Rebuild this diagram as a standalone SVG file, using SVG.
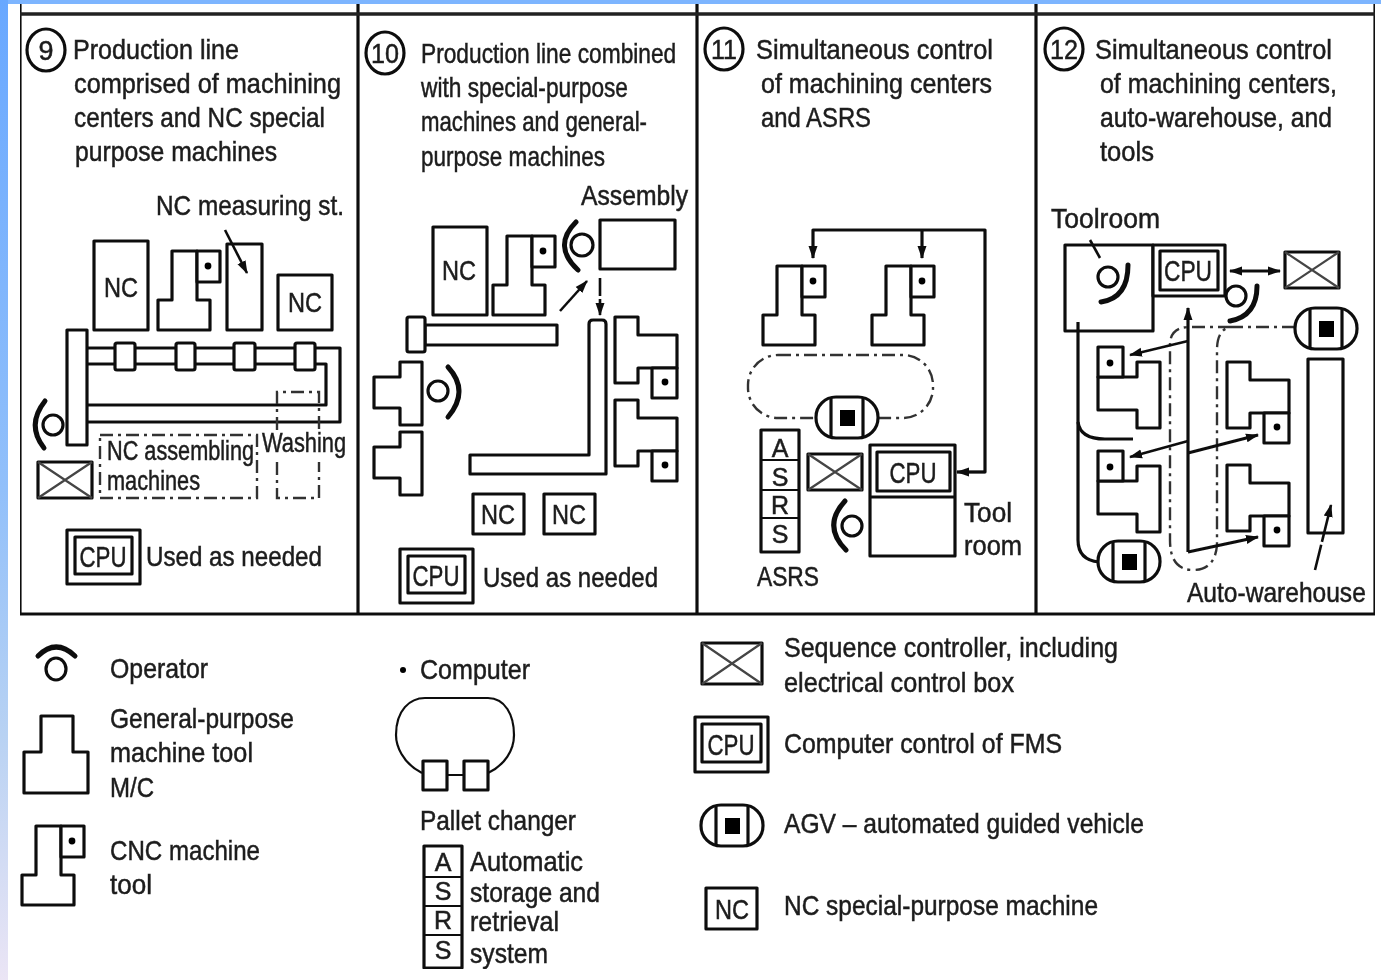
<svg xmlns="http://www.w3.org/2000/svg" width="1381" height="980" viewBox="0 0 1381 980">
<style>
.l{fill:none;stroke:#111;stroke-width:3.2;stroke-linejoin:round}
.b{fill:#fff;stroke:#111;stroke-width:3.2;stroke-linejoin:round}
.t{stroke-width:2.2}
.d{fill:none;stroke:#333;stroke-width:2.4;stroke-dasharray:13 5 3 5}
.th{fill:none;stroke:#111;stroke-width:5;stroke-linecap:round}
.k{fill:#000;stroke:none}
.w{fill:none;stroke:#111;stroke-width:2.6}
.x{fill:none;stroke:#444;stroke-width:2.2}
text{font-family:"Liberation Sans",Arial,sans-serif;font-size:28px;fill:#1c1c1c;stroke:#1c1c1c;stroke-width:.5}
.m{text-anchor:middle}
.f{font-size:30px}
.c{font-size:25px}
</style>
<defs>
<linearGradient id="side" x1="0" y1="0" x2="0" y2="1"><stop offset="0" stop-color="#69a8ff"/><stop offset=".5" stop-color="#92c0fa"/><stop offset=".75" stop-color="#b8d2f3"/><stop offset="1" stop-color="#ebe5f5"/></linearGradient>
<filter id="soft" x="0" y="0" width="1" height="1"><feGaussianBlur stdDeviation="0.75"/></filter>
<marker id="a" markerUnits="userSpaceOnUse" markerWidth="14" markerHeight="12" refX="12" refY="6" orient="auto-start-reverse"><path d="M0 1.5 L13 6 L0 10.5Z" fill="#111"/></marker>
<g id="cnc"><path class="b" d="M0 0H25V49H38V79H-14V49H0Z"/><rect class="b" x="25" y="0" width="23" height="31"/><circle class="k" cx="36" cy="15" r="3.4"/></g>
<g id="cncR"><path class="b" d="M0 0H23V18H62V51H23V66H0Z"/><rect class="b" x="37" y="51" width="25" height="30"/><circle class="k" cx="50" cy="65" r="3.4"/></g>
<path id="gpL" class="b" d="M26 0H48V63H26V46H0V15H26Z"/>
<g id="xbox"><rect class="b" x="0" y="0" width="54" height="36"/><path class="x" d="M0 0L54 36M54 0L0 36"/></g>
<g id="cpu"><rect class="b" x="0" y="0" width="73" height="54"/><rect class="l" x="8" y="7" width="57" height="37"/></g>
<g id="agv"><rect class="b" x="0" y="0" width="62" height="41" rx="20" ry="20"/><path class="l" d="M15 0V41M47 0V41"/><rect class="k" x="24" y="13" width="15" height="16"/></g>
<g id="asrs"><rect class="b" x="0" y="0" width="38" height="122"/><path class="l t" d="M0 30H38M0 60H38M0 88H38"/></g>
</defs>
<rect id="background" x="0" y="0" width="1381" height="980" fill="#fff"/>
<rect x="0" y="0" width="1381" height="4" fill="#7db5ff"/>
<rect x="0" y="0" width="8" height="980" fill="url(#side)"/>
<g filter="url(#soft)">
<g id="frame">
<path class="l" d="M20 4V614H1375V4M358 4V614M697 4V614M1036 4V614"/>
<path d="M20 14H1375" fill="none" stroke="#222" stroke-width="3.5"/>
</g>
<g id="panel-9">
<g id="badge-9"><ellipse class="l" cx="46" cy="50" rx="19" ry="21"/><text class="m" x="46" y="60" textLength="15" lengthAdjust="spacingAndGlyphs">9</text></g>
<text x="73" y="59" textLength="166" lengthAdjust="spacingAndGlyphs">Production line</text>
<text x="74" y="93" textLength="267" lengthAdjust="spacingAndGlyphs">comprised of machining</text>
<text x="74" y="127" textLength="251" lengthAdjust="spacingAndGlyphs">centers and NC special</text>
<text x="75" y="161" textLength="202" lengthAdjust="spacingAndGlyphs">purpose machines</text>
<text x="156" y="215" textLength="188" lengthAdjust="spacingAndGlyphs">NC measuring st.</text>
<g id="nc-9a"><rect class="b" x="94" y="241" width="54" height="89"/><text class="m" x="121" y="297" textLength="34" lengthAdjust="spacingAndGlyphs">NC</text></g>
<g id="cnc-9"><use href="#cnc" x="172" y="251"/></g>
<g id="measuring-9"><rect class="b" x="227" y="244" width="35" height="86"/></g>
<g id="nc-9b"><rect class="b" x="278" y="275" width="54" height="55"/><text class="m" x="305" y="312" textLength="34" lengthAdjust="spacingAndGlyphs">NC</text></g>
<g id="track-9"><path class="l" d="M87 348H340V422H87M87 364H326V405H87"/><rect class="b" x="67" y="330" width="20" height="115"/>
<rect class="b" x="115" y="343" width="20" height="27" rx="2"/><rect class="b" x="176" y="343" width="19" height="27" rx="2"/><rect class="b" x="234" y="343" width="21" height="27" rx="2"/><rect class="b" x="295" y="343" width="20" height="27" rx="2"/></g>
<g id="operator-9"><circle class="l" cx="53" cy="425" r="10"/><path class="th" d="M45 401Q26 425 44 448"/></g>
<g id="seq-9"><use href="#xbox" x="38" y="462"/></g>
<g id="assembling-9"><rect class="d" x="100" y="435" width="157" height="63"/><text transform="translate(107 460) scale(.775 1)">NC assembling</text><text x="107" y="490" textLength="93" lengthAdjust="spacingAndGlyphs">machines</text></g>
<g id="washing-9"><path class="d" d="M277 430V392H319V430M277 462V498H319V462"/><text transform="translate(262 452) scale(.78 1)">Washing</text></g>
<g id="cpu-9"><use href="#cpu" x="67" y="530"/><text class="m f" x="103" y="567" textLength="47" lengthAdjust="spacingAndGlyphs">CPU</text></g>
<text x="146" y="566" textLength="176" lengthAdjust="spacingAndGlyphs">Used as needed</text>
</g>
<g id="panel-10">
<g id="badge-10"><ellipse class="l" cx="385" cy="53" rx="19" ry="21"/><text class="m" x="385" y="63" textLength="28" lengthAdjust="spacingAndGlyphs">10</text></g>
<text transform="translate(421 63) scale(.812 1)">Production line combined</text>
<text x="421" y="97" textLength="207" lengthAdjust="spacingAndGlyphs">with special-purpose</text>
<text x="421" y="131" textLength="226" lengthAdjust="spacingAndGlyphs">machines and general-</text>
<text x="421" y="166" textLength="184" lengthAdjust="spacingAndGlyphs">purpose machines</text>
<text x="581" y="205" textLength="107" lengthAdjust="spacingAndGlyphs">Assembly</text>
<g id="nc-10a"><rect class="b" x="433" y="227" width="54" height="88"/><text class="m" x="459" y="280" textLength="34" lengthAdjust="spacingAndGlyphs">NC</text></g>
<g id="cnc-10"><use href="#cnc" x="507" y="236"/></g>
<g id="assembly-10"><rect class="b" x="600" y="220" width="75" height="49"/></g>
<g id="operator-10a"><circle class="l" cx="582" cy="245" r="11"/><path class="th" d="M576 222Q552 246 578 270"/></g>
<g id="bar-10"><rect class="b" x="425" y="325" width="132" height="20"/><rect class="b" x="407" y="317" width="18" height="35" rx="2"/></g>
<g id="conveyor-10"><path class="b" d="M470 455H589V324Q589 320 593 320H602Q606 320 606 324V474H470Z"/></g>
<g id="gp-10a"><use href="#gpL" x="374" y="362"/></g>
<g id="gp-10b"><use href="#gpL" x="374" y="432"/></g>
<g id="operator-10b"><circle class="l" cx="438" cy="391" r="10"/><path class="th" d="M448 367Q470 391 448 417"/></g>
<g id="cnc-10b"><use href="#cncR" x="615" y="317"/></g>
<g id="cnc-10c"><use href="#cncR" x="615" y="400"/></g>
<g id="nc-10b"><rect class="b" x="473" y="494" width="51" height="40"/><text class="m" x="498" y="524" textLength="34" lengthAdjust="spacingAndGlyphs">NC</text></g>
<g id="nc-10c"><rect class="b" x="544" y="494" width="51" height="40"/><text class="m" x="569" y="524" textLength="34" lengthAdjust="spacingAndGlyphs">NC</text></g>
<g id="cpu-10"><use href="#cpu" x="400" y="549"/><text class="m f" x="436" y="586" textLength="47" lengthAdjust="spacingAndGlyphs">CPU</text></g>
<text x="483" y="587" textLength="175" lengthAdjust="spacingAndGlyphs">Used as needed</text>
</g>
<g id="panel-11">
<g id="badge-11"><ellipse class="l" cx="724" cy="49" rx="19" ry="21"/><text class="m" x="724" y="59" textLength="26" lengthAdjust="spacingAndGlyphs">11</text></g>
<text x="756" y="59" textLength="237" lengthAdjust="spacingAndGlyphs">Simultaneous control</text>
<text x="761" y="93" textLength="231" lengthAdjust="spacingAndGlyphs">of machining centers</text>
<text x="761" y="127" textLength="110" lengthAdjust="spacingAndGlyphs">and ASRS</text>
<g id="cnc-11a"><use href="#cnc" x="777" y="266"/></g>
<g id="cnc-11b"><use href="#cnc" x="886" y="266"/></g>
<g id="path-11"><rect class="d" x="748" y="355" width="185" height="63" rx="30"/></g>
<g id="agv-11"><use href="#agv" x="816" y="397"/></g>
<g id="asrs-11"><use href="#asrs" x="761" y="430"/><text class="m c" x="780" y="457">A</text><text class="m c" x="780" y="486">S</text><text class="m c" x="780" y="514">R</text><text class="m c" x="780" y="543">S</text></g>
<g id="seq-11"><use href="#xbox" x="808" y="454"/></g>
<g id="toolroom-11"><rect class="b" x="870" y="445" width="85" height="111"/><path class="l" d="M870 497H955"/><rect class="l" x="877" y="452" width="73" height="39"/><text class="m f" x="913" y="483" textLength="47" lengthAdjust="spacingAndGlyphs">CPU</text></g>
<g id="operator-11"><circle class="l" cx="852" cy="526" r="10"/><path class="th" d="M845 501Q822 526 846 550"/></g>
<text x="964" y="522" textLength="48" lengthAdjust="spacingAndGlyphs">Tool</text>
<text x="964" y="555" textLength="58" lengthAdjust="spacingAndGlyphs">room</text>
<text x="757" y="586" textLength="62" lengthAdjust="spacingAndGlyphs">ASRS</text>
</g>
<g id="panel-12">
<g id="badge-12"><ellipse class="l" cx="1064" cy="49" rx="19" ry="21"/><text class="m" x="1064" y="59" textLength="28" lengthAdjust="spacingAndGlyphs">12</text></g>
<text x="1095" y="59" textLength="237" lengthAdjust="spacingAndGlyphs">Simultaneous control</text>
<text x="1100" y="93" textLength="237" lengthAdjust="spacingAndGlyphs">of machining centers,</text>
<text x="1100" y="127" textLength="232" lengthAdjust="spacingAndGlyphs">auto-warehouse, and</text>
<text x="1100" y="161" textLength="54" lengthAdjust="spacingAndGlyphs">tools</text>
<text x="1051" y="228" textLength="109" lengthAdjust="spacingAndGlyphs">Toolroom</text>
<g id="toolroom-12"><rect class="b" x="1065" y="245" width="88" height="86"/></g>
<g id="operator-12a"><circle class="l" cx="1108" cy="277" r="10"/><path class="th" d="M1128 265Q1128 298 1101 302"/></g>
<g id="cpu-12"><rect class="b" x="1153" y="245" width="72" height="51"/><rect class="l" x="1160" y="251" width="58" height="39"/><text class="m f" x="1188" y="281" textLength="48" lengthAdjust="spacingAndGlyphs">CPU</text></g>
<g id="seq-12"><use href="#xbox" x="1285" y="252"/></g>
<g id="operator-12b"><circle class="l" cx="1236" cy="296" r="10"/><path class="th" d="M1257 286Q1257 316 1230 321"/></g>
<g id="path-12"><path class="d" d="M1295 327H1230Q1217 330 1217 350V545Q1215 570 1193 570Q1170 570 1170 540V345Q1170 327 1190 327H1230"/></g>
<g id="agv-12a"><use href="#agv" x="1295" y="308"/></g>
<g id="agv-12b"><use href="#agv" x="1098" y="541"/></g>
<g id="cnc-12a"><use href="#cncR" transform="rotate(180 1160 428) translate(1160 428)"/></g>
<g id="cnc-12b"><use href="#cncR" transform="rotate(180 1160 532) translate(1160 532)"/></g>
<g id="cnc-12c"><use href="#cncR" x="1227" y="362"/></g>
<g id="cnc-12d"><use href="#cncR" x="1227" y="465"/></g>
<g id="warehouse-12"><rect class="b" x="1308" y="359" width="35" height="174"/></g>
<text transform="translate(1187 602) scale(.877 1)">Auto-warehouse</text>
</g>
<g id="connectors">
<path class="w" d="M225 230L247 273" marker-end="url(#a)"/>
<path class="w" d="M560 311L587 281" marker-end="url(#a)"/>
<path class="w" d="M600 278V315" stroke-dasharray="18 3 18" marker-end="url(#a)"/>
<path class="l" d="M957 472H985V230H813V258" marker-end="url(#a)"/>
<path class="w" d="M985 472H957" marker-end="url(#a)"/>
<path class="l" d="M922 230V258" marker-end="url(#a)"/>
<path class="w" d="M1090 240L1100 258"/>
<path class="l" d="M1230 271H1280" marker-start="url(#a)" marker-end="url(#a)"/>
<path class="l" d="M1188 552V308" marker-end="url(#a)"/>
<path class="w" d="M1188 341L1130 355" marker-end="url(#a)"/>
<path class="w" d="M1188 441L1130 457" marker-end="url(#a)"/>
<path class="l" d="M1188 453L1258 435" marker-end="url(#a)"/>
<path class="l" d="M1188 552L1258 537" marker-end="url(#a)"/>
<path class="l" d="M1078 322V540Q1078 560 1099 562"/>
<path class="l" d="M1078 422Q1080 439 1105 439H1133"/>
<path class="w" d="M1315 570L1331 505" stroke-dasharray="26 3 40" marker-end="url(#a)"/>
</g>
<g id="legend">
<g id="leg-operator"><ellipse class="l" cx="56" cy="669" rx="10" ry="11"/><path class="th" d="M38 656Q56 638 75 656"/><text x="110" y="678" textLength="98" lengthAdjust="spacingAndGlyphs">Operator</text></g>
<g id="leg-gp"><path class="b" d="M41 716H73V752H88V793H24V752H41Z"/><text x="110" y="728" textLength="184" lengthAdjust="spacingAndGlyphs">General-purpose</text><text x="110" y="762" textLength="143" lengthAdjust="spacingAndGlyphs">machine tool</text><text x="110" y="797" textLength="44" lengthAdjust="spacingAndGlyphs">M/C</text></g>
<g id="leg-cnc"><use href="#cnc" x="36" y="826"/><text x="110" y="860" textLength="150" lengthAdjust="spacingAndGlyphs">CNC machine</text><text x="110" y="894" textLength="42" lengthAdjust="spacingAndGlyphs">tool</text></g>
<g id="leg-computer"><circle class="k" cx="403" cy="670" r="3"/><text x="420" y="679" textLength="110" lengthAdjust="spacingAndGlyphs">Computer</text></g>
<g id="leg-pallet"><path class="l t" d="M422 773C402 763 396 745 396 735C396 710 410 698 425 698H488C505 698 514 715 514 735C514 750 505 765 488 773M447 775H464"/><rect class="b" x="423" y="761" width="24" height="29"/><rect class="b" x="464" y="761" width="24" height="29"/><text x="420" y="830" textLength="156" lengthAdjust="spacingAndGlyphs">Pallet changer</text></g>
<g id="leg-asrs"><rect class="l" x="424" y="846" width="38" height="122"/><path class="l t" d="M424 877H462M424 906H462M424 935H462"/><text class="m c" x="443" y="871">A</text><text class="m c" x="443" y="900">S</text><text class="m c" x="443" y="929">R</text><text class="m c" x="443" y="959">S</text>
<text x="470" y="871" textLength="113" lengthAdjust="spacingAndGlyphs">Automatic</text><text x="470" y="902" textLength="130" lengthAdjust="spacingAndGlyphs">storage and</text><text x="470" y="931" textLength="89" lengthAdjust="spacingAndGlyphs">retrieval</text><text x="470" y="963" textLength="78" lengthAdjust="spacingAndGlyphs">system</text></g>
<g id="leg-seq"><rect class="b" x="702" y="643" width="60" height="41"/><path class="x" d="M702 643L762 684M762 643L702 684"/><text x="784" y="657" textLength="334" lengthAdjust="spacingAndGlyphs">Sequence controller, including</text><text x="784" y="692" textLength="230" lengthAdjust="spacingAndGlyphs">electrical control box</text></g>
<g id="leg-cpu"><rect class="b" x="695" y="717" width="73" height="55"/><rect class="l" x="702" y="724" width="59" height="38"/><text class="m f" x="731" y="755" textLength="47" lengthAdjust="spacingAndGlyphs">CPU</text><text x="784" y="753" textLength="278" lengthAdjust="spacingAndGlyphs">Computer control of FMS</text></g>
<g id="leg-agv"><use href="#agv" x="701" y="805"/><text x="784" y="833" textLength="360" lengthAdjust="spacingAndGlyphs">AGV – automated guided vehicle</text></g>
<g id="leg-nc"><rect class="b" x="706" y="888" width="51" height="41"/><text class="m" x="732" y="919" textLength="34" lengthAdjust="spacingAndGlyphs">NC</text><text x="784" y="915" textLength="314" lengthAdjust="spacingAndGlyphs">NC special-purpose machine</text></g>
</g>
</g>
</svg>
